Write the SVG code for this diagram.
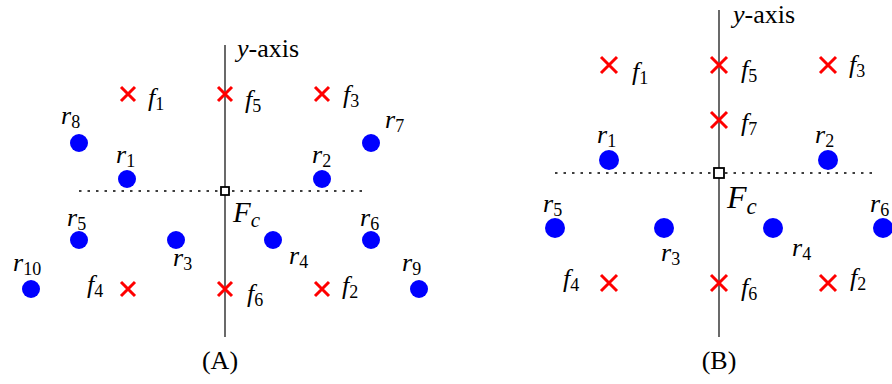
<svg xmlns="http://www.w3.org/2000/svg" width="892" height="384" viewBox="0 0 892 384">
<style>
text{font-family:"Liberation Serif","DejaVu Serif",serif;fill:#000;}
.v{font-style:italic;font-size:26px;}
.s{font-style:normal;font-size:18px;}
.si{font-style:italic;font-size:18px;}
.up{font-style:normal;}
.axis{stroke:#444;stroke-width:1.6;fill:none;}
.dot{stroke:#000;stroke-width:1.3;stroke-dasharray:2.5 6;fill:none;}
.sq{fill:#fff;stroke:#000;stroke-width:1.8;}
.robot{fill:#0000ff;}
.x{stroke:#ff0000;stroke-width:3;fill:none;}
.cap{font-size:26px;}
</style>
<defs>
<path id="xa" class="x" d="M-7,-7L7,7M-7,7L7,-7"/>
<path id="xb" class="x" d="M-8,-8L8,8M-8,8L8,-8"/>
</defs>

<g id="connectors">
<line class="axis" x1="225" y1="45" x2="225" y2="337"/>
<line class="dot" x1="79" y1="191" x2="363" y2="191"/>
<line class="axis" x1="719" y1="10" x2="719" y2="337"/>
<line class="dot" x1="555" y1="173" x2="875" y2="173"/>
</g>

<!-- Panel A -->
<g id="A-yaxis"><text class="v" x="237" y="57">y<tspan class="up">-axis</tspan></text></g>
<g id="A-Fc"><rect class="sq" x="221" y="187" width="8" height="8"/><text class="v" x="233" y="222" style="font-size:29px">F<tspan class="si" dy="5" style="font-size:21px">c</tspan></text></g>
<g id="A-f1"><use href="#xa" x="128" y="94"/><text class="v" x="148" y="106">f<tspan class="s" dy="4">1</tspan></text></g>
<g id="A-f5"><use href="#xa" x="225" y="94"/><text class="v" x="245" y="108">f<tspan class="s" dy="4">5</tspan></text></g>
<g id="A-f3"><use href="#xa" x="322" y="94"/><text class="v" x="343" y="103">f<tspan class="s" dy="4">3</tspan></text></g>
<g id="A-f4"><use href="#xa" x="128" y="289"/><text class="v" x="87" y="293">f<tspan class="s" dy="4">4</tspan></text></g>
<g id="A-f6"><use href="#xa" x="225" y="289"/><text class="v" x="247" y="302">f<tspan class="s" dy="4">6</tspan></text></g>
<g id="A-f2"><use href="#xa" x="322" y="289"/><text class="v" x="342" y="294">f<tspan class="s" dy="4">2</tspan></text></g>
<g id="A-r8"><circle class="robot" cx="79" cy="143" r="9"/><text class="v" x="61" y="124">r<tspan class="s" dy="4">8</tspan></text></g>
<g id="A-r1"><circle class="robot" cx="127" cy="179" r="9"/><text class="v" x="116" y="163">r<tspan class="s" dy="4">1</tspan></text></g>
<g id="A-r2"><circle class="robot" cx="322" cy="179" r="9"/><text class="v" x="312" y="163">r<tspan class="s" dy="4">2</tspan></text></g>
<g id="A-r7"><circle class="robot" cx="371" cy="143" r="9"/><text class="v" x="385" y="128">r<tspan class="s" dy="4">7</tspan></text></g>
<g id="A-r5"><circle class="robot" cx="79" cy="240" r="9"/><text class="v" x="67" y="226">r<tspan class="s" dy="4">5</tspan></text></g>
<g id="A-r3"><circle class="robot" cx="176" cy="240" r="9"/><text class="v" x="173" y="266">r<tspan class="s" dy="4">3</tspan></text></g>
<g id="A-r4"><circle class="robot" cx="273" cy="240" r="9"/><text class="v" x="289" y="264">r<tspan class="s" dy="4">4</tspan></text></g>
<g id="A-r6"><circle class="robot" cx="371" cy="240" r="9"/><text class="v" x="360" y="226">r<tspan class="s" dy="4">6</tspan></text></g>
<g id="A-r10"><circle class="robot" cx="31" cy="289" r="9"/><text class="v" x="13" y="271">r<tspan class="s" dy="4">10</tspan></text></g>
<g id="A-r9"><circle class="robot" cx="419" cy="289" r="9"/><text class="v" x="402" y="271">r<tspan class="s" dy="4">9</tspan></text></g>
<g id="A-caption"><text class="cap" x="220" y="369" text-anchor="middle">(A)</text></g>

<!-- Panel B -->
<g id="B-yaxis"><text class="v" x="733" y="23">y<tspan class="up">-axis</tspan></text></g>
<g id="B-Fc"><rect class="sq" x="714" y="168" width="10" height="10"/><text class="v" x="727" y="208" style="font-size:32px">F<tspan class="si" dy="6" style="font-size:23px">c</tspan></text></g>
<g id="B-f1"><use href="#xb" x="609" y="65"/><text class="v" x="632" y="80">f<tspan class="s" dy="4">1</tspan></text></g>
<g id="B-f5"><use href="#xb" x="719" y="65"/><text class="v" x="741" y="78">f<tspan class="s" dy="4">5</tspan></text></g>
<g id="B-f3"><use href="#xb" x="828" y="65"/><text class="v" x="849" y="73">f<tspan class="s" dy="4">3</tspan></text></g>
<g id="B-f7"><use href="#xb" x="719" y="120"/><text class="v" x="741" y="131">f<tspan class="s" dy="4">7</tspan></text></g>
<g id="B-f4"><use href="#xb" x="609" y="283"/><text class="v" x="563" y="287">f<tspan class="s" dy="4">4</tspan></text></g>
<g id="B-f6"><use href="#xb" x="719" y="283"/><text class="v" x="741" y="296">f<tspan class="s" dy="4">6</tspan></text></g>
<g id="B-f2"><use href="#xb" x="828" y="283"/><text class="v" x="850" y="286">f<tspan class="s" dy="4">2</tspan></text></g>
<g id="B-r1"><circle class="robot" cx="609" cy="160" r="10"/><text class="v" x="597" y="143">r<tspan class="s" dy="4">1</tspan></text></g>
<g id="B-r2"><circle class="robot" cx="828" cy="160" r="10"/><text class="v" x="815" y="143">r<tspan class="s" dy="4">2</tspan></text></g>
<g id="B-r5"><circle class="robot" cx="555" cy="228" r="10"/><text class="v" x="543" y="212">r<tspan class="s" dy="4">5</tspan></text></g>
<g id="B-r3"><circle class="robot" cx="664" cy="228" r="10"/><text class="v" x="661" y="261">r<tspan class="s" dy="4">3</tspan></text></g>
<g id="B-r4"><circle class="robot" cx="773" cy="228" r="10"/><text class="v" x="792" y="256">r<tspan class="s" dy="4">4</tspan></text></g>
<g id="B-r6"><circle class="robot" cx="883" cy="228" r="10"/><text class="v" x="870" y="212">r<tspan class="s" dy="4">6</tspan></text></g>
<g id="B-caption"><text class="cap" x="719" y="369" text-anchor="middle">(B)</text></g>
</svg>
